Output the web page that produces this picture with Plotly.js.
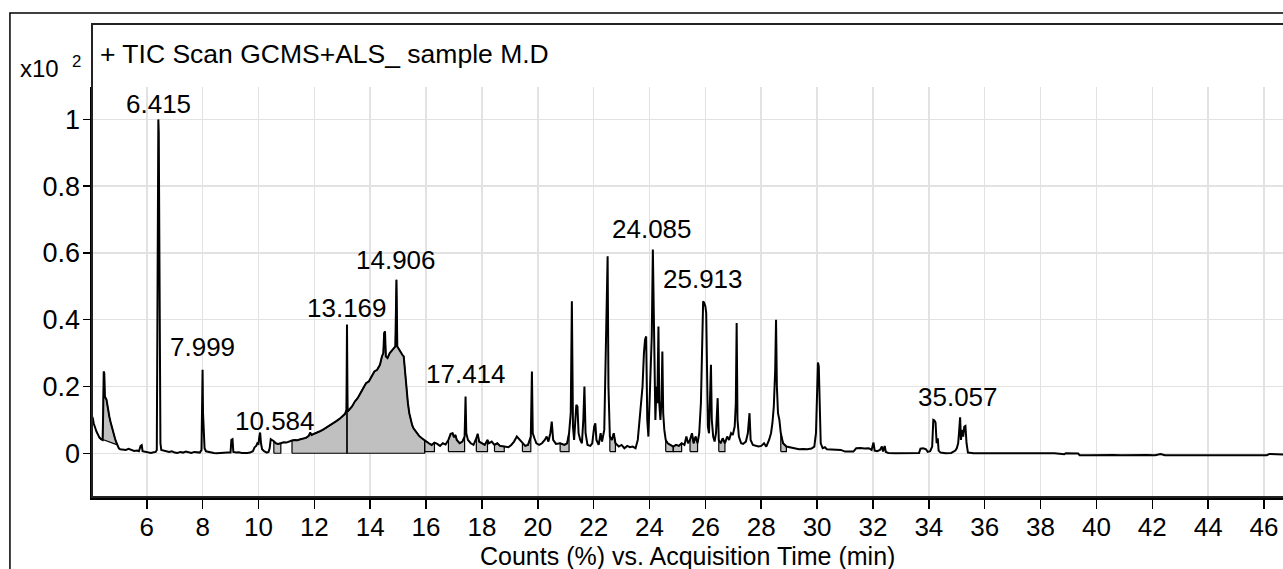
<!DOCTYPE html>
<html>
<head>
<meta charset="utf-8">
<script src="https://cdn.plot.ly/plotly-3.0.1.min.js"></script>
<style>html,body{margin:0;padding:0;background:#fff;}#chart{width:1283px;height:569px;}</style>
</head>
<body>
<div id="chart"></div>
<script>
// Retention time (min)
const rt = [
4.04,4.07,4.10,4.13,4.16,4.20,4.25,4.30,4.36,4.42,4.44,4.46,4.48,4.50,4.53,4.56,4.60,4.63,4.66,4.70,4.74,4.78,4.82,4.86,4.90,4.95,
5.00,5.05,5.15,5.25,5.35,5.45,5.55,5.65,5.72,5.78,5.82,5.85,5.95,6.05,6.15,6.25,6.32,6.36,6.38,6.40,6.415,6.43,6.45,6.47,6.49,6.52,
6.60,6.70,6.80,6.90,7.00,7.10,7.20,7.30,7.40,7.50,7.60,7.70,7.80,7.90,7.96,7.985,7.999,8.015,8.04,8.07,8.12,8.20,8.30,8.40,8.50,8.60,8.70,8.80,8.90,
9.00,9.03,9.07,9.10,9.20,9.30,9.40,9.50,9.60,9.70,9.80,9.86,9.92,9.96,10.00,10.03,10.06,10.09,10.13,10.20,10.30,10.36,10.40,10.44,10.50,10.55,10.62,
10.70,10.80,10.90,11.00,11.10,11.20,11.30,11.40,11.50,11.60,11.70,11.80,11.85,11.90,12.00,12.10,12.20,12.30,12.40,12.50,12.60,12.70,12.80,12.90,13.00,13.10,13.15,13.169,13.19,
13.25,13.35,13.45,13.55,13.65,13.75,13.85,13.95,14.05,14.15,14.25,14.35,14.42,14.47,14.50,14.53,14.56,14.62,14.70,14.78,14.85,14.90,14.94,14.97,15.00,15.05,15.10,15.15,
15.20,15.25,15.30,15.35,15.40,15.45,15.50,15.55,15.65,15.75,15.85,15.95,
16.10,16.20,16.30,16.40,16.50,16.60,16.70,16.80,16.88,16.95,17.00,17.05,17.10,17.20,17.30,17.38,17.414,17.44,17.50,17.60,17.70,17.80,17.85,17.90,18.00,18.10,18.20,18.25,18.35,18.45,18.55,18.65,18.80,18.95,
19.05,19.15,19.25,19.35,19.45,19.55,19.65,19.75,19.79,19.82,19.88,19.95,20.05,20.15,20.25,20.32,20.38,20.45,20.50,20.55,20.65,20.80,20.95,
21.05,21.12,21.18,21.22,21.26,21.30,21.35,21.38,21.42,21.46,21.52,21.58,21.63,21.67,21.71,21.78,21.88,21.95,22.02,22.06,22.10,22.18,22.25,22.30,22.38,22.44,22.48,22.50,22.53,22.58,22.65,22.72,22.78,22.90,
23.00,23.10,23.20,23.30,23.40,23.50,23.58,23.65,23.70,23.75,23.80,23.84,23.88,23.92,23.96,24.00,24.04,24.08,24.12,24.15,24.18,24.21,24.25,24.28,24.32,24.35,24.39,24.43,24.46,24.49,24.53,24.58,24.65,24.75,24.85,24.95,
25.05,25.15,25.25,25.32,25.38,25.45,25.52,25.58,25.65,25.72,25.78,25.84,25.88,25.92,25.96,26.00,26.03,26.06,26.09,26.13,26.17,26.20,26.23,26.28,26.33,26.38,26.44,26.48,26.55,26.62,26.70,26.78,26.85,26.92,26.98,
27.05,27.09,27.12,27.15,27.20,27.28,27.35,27.45,27.52,27.58,27.62,27.70,27.80,27.90,28.00,28.10,28.18,28.28,28.35,28.40,28.45,28.50,28.53,28.56,28.60,28.65,28.70,28.78,28.90,
29.00,29.10,29.20,29.35,29.50,29.65,29.80,29.90,29.96,30.00,30.03,30.06,30.09,30.13,30.20,30.28,30.35,30.50,30.70,30.85,
31.00,31.15,31.30,31.40,31.55,31.70,31.85,31.95,32.02,32.06,32.15,32.25,32.32,32.36,32.42,32.46,32.55,32.80,33.10,33.40,33.65,33.70,33.80,33.90,33.96,
34.05,34.12,34.16,34.20,34.24,34.28,34.32,34.35,34.42,34.60,34.80,34.95,35.00,35.05,35.08,35.12,35.15,35.19,35.23,35.27,35.31,35.35,35.40,35.60,
36.00,36.50,37.00,37.50,38.00,38.50,38.85,38.90,39.35,39.40,39.70,40.00,40.30,40.60,40.90,41.20,41.50,41.80,42.10,42.30,42.45,42.80,43.20,43.60,44.00,44.40,44.80,45.20,45.60,46.10,46.20,46.60,46.68
];
// Counts (%), x10^2
const counts = [
0.110,0.105,0.090,0.085,0.075,0.065,0.055,0.048,0.042,0.040,0.120,0.245,0.240,0.170,0.165,0.160,0.140,0.120,0.110,0.095,0.080,0.068,0.055,0.045,0.035,0.025,
0.015,0.012,0.012,0.010,0.013,0.010,0.007,0.008,0.006,0.022,0.024,0.006,0.004,0.002,0.001,0.003,0.004,0.010,0.600,0.970,1.000,0.960,0.700,0.200,0.030,0.010,
0.008,0.006,0.004,0.006,0.002,0.001,0.004,0.002,0.005,0.003,0.001,0.004,0.002,0.002,0.010,0.150,0.250,0.120,0.040,0.015,0.006,0.004,0.002,0.001,0.000,0.001,0.000,0.001,0.002,
0.002,0.040,0.042,0.004,0.002,0.003,0.001,0.000,0.001,0.002,0.006,0.018,0.022,0.030,0.028,0.050,0.062,0.030,0.012,0.006,0.002,0.004,0.015,0.042,0.040,0.036,0.030,
0.028,0.030,0.033,0.032,0.036,0.038,0.040,0.039,0.042,0.044,0.046,0.052,0.062,0.055,0.058,0.062,0.066,0.070,0.075,0.080,0.086,0.090,0.097,0.103,0.110,0.118,0.130,0.385,0.125,
0.130,0.140,0.155,0.165,0.180,0.195,0.210,0.215,0.230,0.245,0.250,0.265,0.290,0.300,0.360,0.365,0.290,0.285,0.300,0.310,0.315,0.320,0.520,0.320,0.315,0.310,0.300,0.295,
0.290,0.240,0.190,0.150,0.120,0.100,0.085,0.075,0.062,0.052,0.045,0.038,
0.030,0.025,0.032,0.028,0.022,0.030,0.026,0.040,0.058,0.060,0.048,0.055,0.040,0.030,0.035,0.050,0.170,0.060,0.040,0.030,0.025,0.045,0.058,0.035,0.030,0.025,0.040,0.030,0.035,0.025,0.030,0.022,0.020,0.018,
0.025,0.035,0.050,0.040,0.030,0.022,0.025,0.050,0.245,0.060,0.045,0.030,0.025,0.030,0.040,0.050,0.035,0.060,0.095,0.040,0.028,0.030,0.025,
0.030,0.060,0.120,0.455,0.080,0.040,0.130,0.145,0.140,0.060,0.040,0.030,0.100,0.200,0.060,0.025,0.022,0.030,0.080,0.090,0.040,0.025,0.060,0.035,0.070,0.300,0.520,0.590,0.200,0.050,0.040,0.060,0.030,0.020,
0.025,0.015,0.022,0.018,0.020,0.015,0.040,0.100,0.150,0.200,0.300,0.340,0.350,0.100,0.050,0.150,0.280,0.350,0.610,0.420,0.150,0.100,0.200,0.150,0.380,0.150,0.100,0.160,0.305,0.120,0.070,0.040,0.030,0.025,0.020,0.025,
0.022,0.030,0.025,0.050,0.030,0.040,0.060,0.030,0.050,0.030,0.060,0.150,0.350,0.455,0.450,0.440,0.420,0.200,0.080,0.060,0.150,0.265,0.100,0.050,0.035,0.060,0.165,0.040,0.030,0.045,0.030,0.050,0.040,0.060,0.055,
0.080,0.150,0.390,0.100,0.050,0.030,0.028,0.035,0.060,0.120,0.040,0.025,0.022,0.020,0.022,0.030,0.020,0.040,0.060,0.090,0.140,0.250,0.400,0.200,0.120,0.100,0.060,0.030,0.020,
0.018,0.015,0.015,0.012,0.013,0.012,0.014,0.020,0.060,0.250,0.272,0.260,0.100,0.030,0.015,0.018,0.012,0.012,0.012,0.010,
0.005,0.006,0.005,0.015,0.016,0.014,0.015,0.010,0.032,0.008,0.006,0.010,0.020,0.005,0.022,0.004,0.001,0.000,0.001,0.000,0.001,0.014,0.015,0.012,0.004,
0.006,0.020,0.100,0.098,0.092,0.030,0.045,0.008,0.002,0.000,0.001,0.008,0.015,0.030,0.060,0.108,0.040,0.070,0.050,0.080,0.082,0.030,0.002,0.000,
0.000,0.000,0.000,0.000,0.000,0.000,-0.003,0.000,-0.001,-0.006,-0.006,-0.005,-0.006,-0.005,-0.006,-0.005,-0.006,-0.005,-0.006,-0.002,-0.006,-0.006,-0.006,-0.006,-0.006,-0.006,-0.006,-0.006,-0.006,-0.006,-0.002,-0.003,-0.004
];
// Integrated peak areas: start, end (min) and baseline level at each end
const areaStart = [4.30, 10.55, 11.20, 13.169, 15.95, 16.80, 17.80, 18.45, 19.45, 20.80, 22.58, 24.58, 24.85, 25.45, 26.48, 28.70];
const areaEnd   = [4.95, 10.80, 13.169, 15.95, 16.30, 17.38, 18.20, 18.80, 19.75, 21.12, 22.78, 24.85, 25.15, 25.72, 26.70, 28.90];
const areaBase0 = [0.045, 0, 0, 0, 0.005, 0.005, 0.005, 0.005, 0.005, 0.005, 0.005, 0.005, 0.005, 0.005, 0.005, 0.005];
const areaBase1 = [0.025, 0, 0, 0, 0.005, 0.005, 0.005, 0.005, 0.005, 0.005, 0.005, 0.005, 0.005, 0.005, 0.005, 0.005];
// Labelled peaks
const peakLabels = ['6.415', '7.999', '10.584', '13.169', '14.906', '17.414', '24.085', '25.913', '35.057'];
const peakLabelLevel = [1.046, 0.318, 0.097, 0.435, 0.579, 0.238, 0.672, 0.522, 0.169];
const xTicks = [6, 8, 10, 12, 14, 16, 18, 20, 22, 24, 26, 28, 30, 32, 34, 36, 38, 40, 42, 44, 46];
const yTicks = [0, 0.2, 0.4, 0.6, 0.8, 1];
const yTickText = ['0', '0.2', '0.4', '0.6', '0.8', '1'];

const FONT = 'Liberation Sans, Arial, Helvetica, sans-serif';

// build fill polygons from the trace
const fx = [], fy = [];
for (let k = 0; k < areaStart.length; k++) {
  const a = areaStart[k], b = areaEnd[k];
  fx.push(a); fy.push(areaBase0[k]);
  for (let i = 0; i < rt.length; i++) {
    if (rt[i] >= a - 1e-9 && rt[i] <= b + 1e-9) { fx.push(rt[i]); fy.push(counts[i]); }
  }
  fx.push(b); fy.push(areaBase1[k]);
  fx.push(a); fy.push(areaBase0[k]);
  fx.push(null); fy.push(null);
}

const traces = [
  {x: fx, y: fy, type: 'scatter', mode: 'lines', fill: 'toself', fillcolor: '#c0c0c0',
   line: {color: '#000', width: 1.2}, hoverinfo: 'skip', showlegend: false},
  {x: rt, y: counts, type: 'scatter', mode: 'lines', line: {color: '#000', width: 2}, showlegend: false}
];

const annotations = peakLabels.map((s, i) => ({
  x: parseFloat(s), y: peakLabelLevel[i], xref: 'x', yref: 'y', text: s, showarrow: false,
  xanchor: 'center', yanchor: 'middle', font: {family: FONT, size: 26, color: '#000'}
}));
annotations.push({x: 0.005, y: 1.0805, xref: 'paper', yref: 'paper', text: '+ TIC Scan GCMS+ALS_ sample M.D',
  showarrow: false, xanchor: 'left', yanchor: 'middle', font: {family: FONT, size: 26.5, color: '#000'}});
annotations.push({x: -0.0621, y: 1.0488, xref: 'paper', yref: 'paper', text: 'x10&nbsp;&nbsp;<sup>2</sup>',
  showarrow: false, xanchor: 'left', yanchor: 'middle', font: {family: FONT, size: 24, color: '#000'}});
annotations.push({x: 0.5, y: -0.1435, xref: 'paper', yref: 'paper', text: 'Counts (%) vs. Acquisition Time (min)',
  showarrow: false, xanchor: 'center', yanchor: 'middle', font: {family: FONT, size: 25, color: '#000'}});

const layout = {
  width: 1283, height: 569,
  margin: {l: 92, r: 0, t: 87, b: 72, pad: 0},
  paper_bgcolor: '#fff', plot_bgcolor: '#fff',
  font: {family: FONT, color: '#000'},
  xaxis: {range: [4.04, 46.68], tickvals: xTicks, ticks: 'outside', ticklen: 9, tickwidth: 1.5, tickcolor: '#000',
    showline: true, linecolor: '#000', linewidth: 2.5, showgrid: true, gridcolor: '#e2e2e2', gridwidth: 1.5,
    zeroline: false, tickfont: {family: FONT, size: 26, color: '#000'}, automargin: false,
    ticklabelstandoff: -4},
  yaxis: {range: [-0.131, 1.097], tickvals: yTicks, ticktext: yTickText, ticks: 'outside', ticklen: 7, tickwidth: 1.5,
    tickcolor: '#000', showline: true, linecolor: '#000', linewidth: 2.5, showgrid: true, gridcolor: '#e2e2e2',
    gridwidth: 1.5, zeroline: false, tickfont: {family: FONT, size: 27, color: '#000'}, automargin: false,
    ticklabelstandoff: -3},
  annotations: annotations,
  shapes: [
    {type: 'rect', xref: 'paper', yref: 'paper', x0: -0.0689, x1: 1.05, y0: -0.4, y1: 1.1805,
     line: {color: '#000', width: 1.5}, fillcolor: 'rgba(0,0,0,0)'},
    {type: 'rect', xref: 'paper', yref: 'paper', x0: 0, x1: 1.05, y0: 0, y1: 1.1537,
     line: {color: '#222', width: 2}, fillcolor: 'rgba(0,0,0,0)'}
  ],
  showlegend: false
};

Plotly.newPlot('chart', traces, layout, {displayModeBar: false, staticPlot: true});
</script>
</body>
</html>
